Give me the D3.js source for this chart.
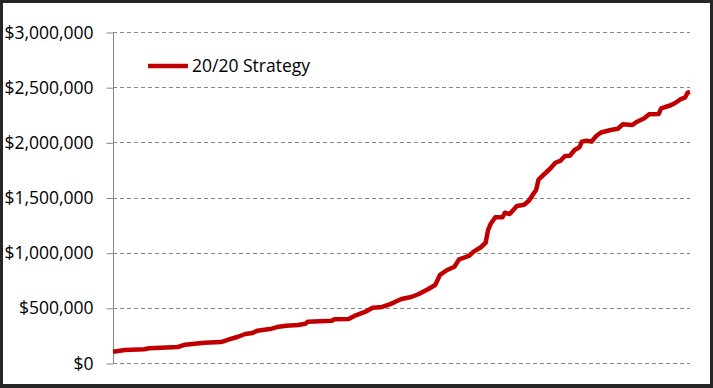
<!DOCTYPE html>
<html>
<head>
<meta charset="utf-8">
<script src="https://cdn.jsdelivr.net/npm/d3@7"></script>
<style>
	html, body { margin: 0; padding: 0; background: #fff; }
	svg { display: block; }
	text { font-family: "Open Sans", "Noto Sans", sans-serif; fill: #000; }
</style>
</head>
<body>
<script>
// month index along the run, and portfolio value at that month
let months = [0, 5, 13, 15, 20, 27, 30, 34, 38, 45, 48, 52, 55, 58, 60, 66, 69, 72, 77, 80,
	81, 91, 92, 98, 101, 105, 108, 112, 115, 117, 120, 124, 127, 131, 134, 136, 139, 142, 144, 148,
	150, 153, 155, 156, 157, 159, 162, 163, 165, 168, 171, 173, 175, 176, 177, 179, 182, 184, 186, 188,
	190, 192, 194, 195, 197, 199, 201, 203, 207, 210, 212, 216, 218, 221, 223, 227, 228, 232, 234, 236,
	238, 239, 240]
let values = [102000, 118000, 124000, 133000, 139000, 145000, 166000, 175000, 184000, 190000, 211000, 238000, 263000, 272000, 293000, 311000, 329000, 338000, 344000, 356000,
	374000, 383000, 396000, 399000, 432000, 465000, 501000, 508000, 532000, 550000, 580000, 598000, 623000, 668000, 707000, 798000, 843000, 873000, 940000, 970000,
	1009000, 1049000, 1090000, 1205000, 1257000, 1321000, 1321000, 1362000, 1350000, 1423000, 1435000, 1471000, 1538000, 1568000, 1663000, 1704000, 1765000, 1815000, 1831000, 1876000,
	1879000, 1931000, 1955000, 2006000, 2015000, 2006000, 2057000, 2089000, 2112000, 2123000, 2163000, 2157000, 2187000, 2218000, 2254000, 2257000, 2308000, 2336000, 2359000, 2390000,
	2408000, 2450000, 2456000]
let yTicks = [0, 500000, 1000000, 1500000, 2000000, 2500000, 3000000]
let seriesName = '20/20 Strategy'

let W = 713, H = 388
let x0 = 113, x1 = 690, y0 = 32, y1 = 363

let svg = d3.select('body').append('svg')
	.attr('width', W).attr('height', H)

// outer frame
svg.append('rect')
	.attr('x', 0).attr('y', 0).attr('width', W).attr('height', H)
	.style('fill', '#262626')
svg.append('rect')
	.attr('x', 3).attr('y', 3).attr('width', W-6).attr('height', H-7)
	.style('fill', '#fff')

let x = d3.scaleLinear().domain([0, d3.max(months)]).range([x0, x1])
let y = d3.scaleLinear().domain([0, 3000000]).range([y1, y0])

let fmt = d => '$' + d3.format(',')(d)

// gridlines
svg.append('g').selectAll('line').data(yTicks).join('line')
	.attr('x1', x0).attr('x2', x1)
	.attr('y1', d => Math.round(y(d)) + 0.5).attr('y2', d => Math.round(y(d)) + 0.5)
	.style('stroke', '#868686').attr('stroke-width', 1)
	.attr('stroke-dasharray', '4,3')

// y axis
let yAxis = d3.axisLeft(y).tickValues(yTicks).tickSize(7).tickPadding(13).tickFormat(fmt)
let ga = svg.append('g')
	.attr('transform', `translate(${x0 + 0.5},0.5)`)
	.call(yAxis)
ga.select('.domain').attr('d', `M0,${y0}V${y1}`).style('stroke', '#868686')
ga.selectAll('.tick line').style('stroke', '#868686')
ga.selectAll('.tick text')
	.style('font-size', '17.5px').style('font-family', '"Open Sans", sans-serif')
	.style('fill', '#000')

// series line
let line = d3.line()
	.x((d, i) => x(months[i]))
	.y(d => y(d))
svg.append('path')
	.datum(values)
	.attr('d', line)
	.style('fill', 'none').style('stroke', '#c00000')
	.attr('stroke-width', 4.5).attr('stroke-linejoin', 'round')

// legend
svg.append('line')
	.attr('x1', 148).attr('x2', 188)
	.attr('y1', 66).attr('y2', 66)
	.style('stroke', '#c00000').attr('stroke-width', 4.5)
svg.append('text')
	.attr('x', 192).attr('y', 66).attr('dy', '0.35em')
	.style('font-size', '17.5px')
	.text(seriesName)
</script>
</body>
</html>
